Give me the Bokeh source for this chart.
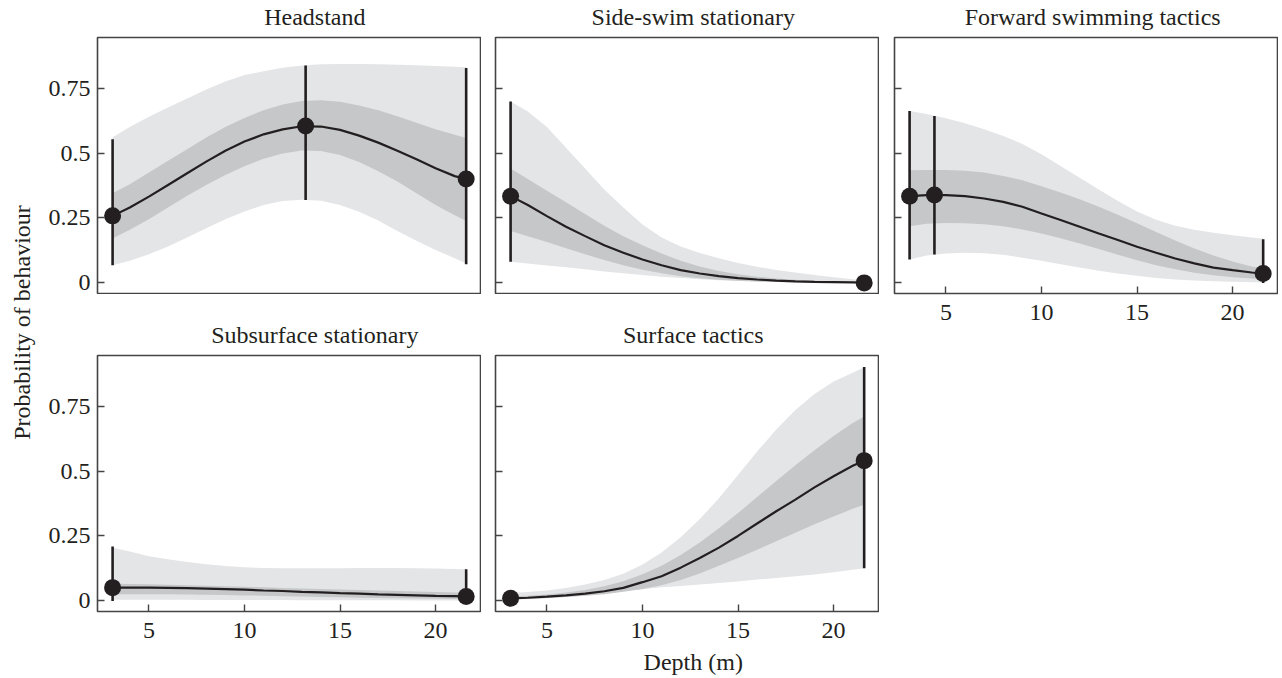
import math
from bokeh.plotting import figure
from bokeh.layouts import row, column
from bokeh.models import Range1d, FixedTicker
from bokeh.embed import file_html
from bokeh.resources import INLINE
from bokeh.core.properties import value

# ---------------- data ----------------
depth = [3.1, 4, 5, 6, 7, 8, 9, 10, 11, 12, 13, 14, 15, 16, 17, 18, 19, 20, 21, 21.6]

titles = ["Headstand", "Side-swim stationary", "Forward swimming tactics",
          "Subsurface stationary", "Surface tactics"]

# Headstand
hs_fit = [0.258, 0.29, 0.332, 0.377, 0.422, 0.467, 0.509, 0.544, 0.572, 0.591, 0.603, 0.602, 0.589, 0.567, 0.54, 0.509, 0.476, 0.441, 0.411, 0.40]
hs_in_hi = [0.345, 0.38, 0.425, 0.47, 0.515, 0.56, 0.60, 0.635, 0.665, 0.687, 0.70, 0.703, 0.697, 0.683, 0.665, 0.642, 0.617, 0.592, 0.570, 0.558]
hs_in_lo = [0.171, 0.205, 0.245, 0.29, 0.335, 0.377, 0.415, 0.449, 0.478, 0.498, 0.51, 0.508, 0.492, 0.465, 0.43, 0.39, 0.345, 0.30, 0.26, 0.238]
hs_out_hi = [0.561, 0.60, 0.64, 0.675, 0.71, 0.745, 0.775, 0.80, 0.815, 0.828, 0.837, 0.842, 0.843, 0.843, 0.842, 0.84, 0.838, 0.835, 0.832, 0.83]
hs_out_lo = [0.068, 0.085, 0.11, 0.14, 0.175, 0.21, 0.245, 0.275, 0.30, 0.315, 0.32, 0.316, 0.30, 0.274, 0.24, 0.20, 0.162, 0.127, 0.095, 0.075]
hs_pt_x = [3.1, 13.2, 21.6]
hs_pt_y = [0.258, 0.604, 0.40]
hs_pt_lo = [0.068, 0.319, 0.072]
hs_pt_hi = [0.553, 0.837, 0.827]

# Side-swim stationary
ss_fit = [0.334, 0.30, 0.257, 0.216, 0.18, 0.145, 0.116, 0.09, 0.068, 0.049, 0.036, 0.026, 0.018, 0.013, 0.009, 0.006, 0.004, 0.003, 0.002, 0.001]
ss_in_hi = [0.44, 0.40, 0.355, 0.31, 0.265, 0.22, 0.18, 0.145, 0.113, 0.085, 0.063, 0.046, 0.033, 0.024, 0.017, 0.012, 0.008, 0.006, 0.004, 0.003]
ss_in_lo = [0.20, 0.18, 0.157, 0.133, 0.11, 0.088, 0.068, 0.051, 0.037, 0.026, 0.018, 0.012, 0.008, 0.005, 0.003, 0.002, 0.001, 0.001, 0.0, 0.0]
ss_out_hi = [0.698, 0.66, 0.60, 0.52, 0.44, 0.36, 0.29, 0.225, 0.175, 0.14, 0.115, 0.095, 0.077, 0.062, 0.05, 0.04, 0.03, 0.022, 0.014, 0.01]
ss_out_lo = [0.081, 0.075, 0.067, 0.06, 0.052, 0.044, 0.037, 0.03, 0.024, 0.019, 0.014, 0.01, 0.007, 0.005, 0.003, 0.002, 0.001, 0.001, 0.0, 0.0]
ss_pt_x = [3.1, 21.6]
ss_pt_y = [0.334, 0.0]
ss_pt_lo = [0.081, 0.0]
ss_pt_hi = [0.698, 0.0]

# Forward swimming tactics
fw_fit = [0.334, 0.338, 0.338, 0.334, 0.325, 0.312, 0.293, 0.267, 0.242, 0.216, 0.19, 0.165, 0.139, 0.116, 0.094, 0.075, 0.059, 0.049, 0.04, 0.036]
fw_in_hi = [0.434, 0.435, 0.435, 0.432, 0.425, 0.412, 0.395, 0.372, 0.348, 0.322, 0.293, 0.262, 0.23, 0.196, 0.163, 0.132, 0.105, 0.082, 0.063, 0.055]
fw_in_lo = [0.218, 0.228, 0.231, 0.23, 0.226, 0.218, 0.206, 0.19, 0.172, 0.152, 0.13, 0.108, 0.087, 0.068, 0.052, 0.039, 0.029, 0.022, 0.017, 0.015]
fw_out_hi = [0.662, 0.65, 0.634, 0.615, 0.592, 0.566, 0.535, 0.495, 0.45, 0.405, 0.36, 0.315, 0.275, 0.243, 0.22, 0.205, 0.193, 0.183, 0.175, 0.17]
fw_out_lo = [0.09, 0.105, 0.113, 0.116, 0.114, 0.108, 0.097, 0.085, 0.072, 0.059, 0.047, 0.036, 0.027, 0.019, 0.013, 0.009, 0.006, 0.004, 0.002, 0.001]
fw_pt_x = [3.1, 4.4, 21.6]
fw_pt_y = [0.334, 0.338, 0.036]
fw_pt_lo = [0.09, 0.109, 0.0]
fw_pt_hi = [0.662, 0.643, 0.168]

# Subsurface stationary
sb_fit = [0.051, 0.051, 0.051, 0.05, 0.049, 0.047, 0.045, 0.043, 0.04, 0.038, 0.035, 0.033, 0.03, 0.028, 0.025, 0.023, 0.021, 0.019, 0.018, 0.017]
sb_in_hi = [0.066, 0.065, 0.064, 0.062, 0.06, 0.058, 0.056, 0.054, 0.052, 0.05, 0.048, 0.046, 0.044, 0.042, 0.04, 0.038, 0.036, 0.034, 0.032, 0.031]
sb_in_lo = [0.025, 0.026, 0.026, 0.026, 0.025, 0.024, 0.023, 0.021, 0.02, 0.018, 0.017, 0.015, 0.014, 0.012, 0.011, 0.01, 0.009, 0.008, 0.007, 0.007]
sb_out_hi = [0.205, 0.19, 0.172, 0.16, 0.15, 0.141, 0.134, 0.129, 0.127, 0.126, 0.126, 0.126, 0.126, 0.127, 0.127, 0.127, 0.126, 0.125, 0.123, 0.122]
sb_out_lo = [0.004, 0.004, 0.004, 0.004, 0.004, 0.003, 0.003, 0.003, 0.003, 0.003, 0.002, 0.002, 0.002, 0.002, 0.002, 0.002, 0.001, 0.001, 0.001, 0.001]
sb_pt_x = [3.1, 21.6]
sb_pt_y = [0.051, 0.017]
sb_pt_lo = [0.0, 0.0]
sb_pt_hi = [0.209, 0.122]

# Surface tactics
sf_fit = [0.01, 0.012, 0.016, 0.021, 0.028, 0.037, 0.05, 0.072, 0.095, 0.128, 0.165, 0.205, 0.25, 0.298, 0.345, 0.39, 0.437, 0.48, 0.52, 0.54]
sf_in_hi = [0.018, 0.02, 0.025, 0.032, 0.042, 0.056, 0.076, 0.103, 0.135, 0.177, 0.225, 0.28, 0.338, 0.40, 0.462, 0.522, 0.58, 0.635, 0.685, 0.71]
sf_in_lo = [0.006, 0.008, 0.011, 0.015, 0.02, 0.026, 0.035, 0.046, 0.06, 0.08, 0.105, 0.135, 0.165, 0.197, 0.23, 0.262, 0.295, 0.325, 0.355, 0.37]
sf_out_hi = [0.03, 0.034, 0.04, 0.05, 0.063, 0.08, 0.104, 0.14, 0.186, 0.245, 0.315, 0.395, 0.485, 0.575, 0.66, 0.735, 0.797, 0.845, 0.878, 0.90]
sf_out_lo = [0.004, 0.006, 0.01, 0.015, 0.022, 0.03, 0.038, 0.045, 0.052, 0.057, 0.063, 0.069, 0.075, 0.082, 0.088, 0.095, 0.102, 0.11, 0.12, 0.126]
sf_pt_x = [3.1, 21.6]
sf_pt_y = [0.01, 0.54]
sf_pt_lo = [0.0, 0.126]
sf_pt_hi = [0.02, 0.901]

y_ticks = [0, 0.25, 0.5, 0.75]
y_tick_labels = ["0", "0.25", "0.5", "0.75"]
x_ticks = [5, 10, 15, 20]
y_label = "Probability of behaviour"
x_label = "Depth (m)"

# ---------------- style / layout ----------------
FONT = "Liberation Serif"
INK = "#231f20"
OUTER = "#e4e5e7"
INNER = "#c6c7c9"
FRAME = "#444444"
FS = "24px"
BASE_SHIFT = 8.5   # baseline correction for the text glyph

FRAME_W = 383
FRAME_H = 256
LEFT_A, LEFT_B, LEFT_C = 61, 14, 15   # left borders of the three columns
STRIP_W = 36
TOTAL_H = 678


def make_panel(fit, in_lo, in_hi, out_lo, out_hi, px, py, plo, phi,
               left_border, bottom_border, y_labels, x_axis):
    p = figure(width=left_border + FRAME_W + 1,
               height=1 + FRAME_H + bottom_border,
               x_range=Range1d(2.31, 22.35), y_range=Range1d(-0.0409, 0.9448),
               output_backend="svg", toolbar_location=None,
               x_axis_location="below" if x_axis else None,
               y_axis_location="left",
               min_border_left=left_border, min_border_right=1,
               min_border_top=1, min_border_bottom=bottom_border,
               background_fill_color="white", border_fill_color="white")
    p.title.visible = False
    p.grid.visible = False
    p.outline_line_color = FRAME
    p.outline_line_width = 1.6

    p.varea(x=depth, y1=out_lo, y2=out_hi, fill_color=OUTER)
    p.varea(x=depth, y1=in_lo, y2=in_hi, fill_color=INNER)
    p.line(x=depth, y=fit, line_color=INK, line_width=2.2)
    p.segment(x0=px, y0=plo, x1=px, y1=phi, line_color=INK, line_width=2.6)
    p.scatter(x=px, y=py, size=17, fill_color=INK, line_color=None)

    axes = list(p.yaxis) + (list(p.xaxis) if x_axis else [])
    for ax in axes:
        ax.axis_line_color = None
        ax.major_tick_in = 7
        ax.major_tick_out = 0
        ax.minor_tick_in = 0
        ax.minor_tick_out = 0
        ax.major_tick_line_color = FRAME
        ax.major_tick_line_width = 1.4
        ax.major_label_text_font = FONT
        ax.major_label_text_color = INK
        ax.major_label_text_font_size = FS
    yax = p.yaxis[0]
    yax.ticker = FixedTicker(ticks=y_ticks)
    if y_labels:
        yax.major_label_overrides = {t: s for t, s in zip(y_ticks, y_tick_labels)}
        yax.major_label_standoff = 7
    else:
        yax.major_label_overrides = {t: "" for t in y_ticks}
        yax.major_label_standoff = 0
    if x_axis:
        xax = p.xaxis[0]
        xax.ticker = FixedTicker(ticks=x_ticks)
        xax.major_label_standoff = 11
    return p


def text_strip(width, height, texts, xs, ys, angle=0.0):
    s = figure(width=width, height=height, x_range=Range1d(0, width), y_range=Range1d(0, height),
               output_backend="svg", toolbar_location=None,
               x_axis_location=None, y_axis_location=None,
               min_border=0, outline_line_color=None,
               background_fill_color="white", border_fill_color="white")
    s.title.visible = False
    s.grid.visible = False
    s.text(x=xs, y=ys, text=texts, angle=angle,
           text_align="center", text_baseline="alphabetic",
           text_font=value(FONT), text_font_size=FS, text_color=INK)
    return s


WA = LEFT_A + FRAME_W + 1
WB = LEFT_B + FRAME_W + 1
WC = LEFT_C + FRAME_W + 1
T1_H = 36          # row-1 title strip (frame top at y = 37)
T2_H = 60          # row-2 title strip (frame top at y = 355)
ROW1_BOTTOM = 1
ROW2_BOTTOM = 34
X_STRIP_H = TOTAL_H - (T1_H + 1 + FRAME_H + ROW1_BOTTOM + T2_H + 1 + FRAME_H + ROW2_BOTTOM)

p1 = make_panel(hs_fit, hs_in_lo, hs_in_hi, hs_out_lo, hs_out_hi,
                hs_pt_x, hs_pt_y, hs_pt_lo, hs_pt_hi, LEFT_A, ROW1_BOTTOM, True, False)
p2 = make_panel(ss_fit, ss_in_lo, ss_in_hi, ss_out_lo, ss_out_hi,
                ss_pt_x, ss_pt_y, ss_pt_lo, ss_pt_hi, LEFT_B, ROW1_BOTTOM, False, False)
p3 = make_panel(fw_fit, fw_in_lo, fw_in_hi, fw_out_lo, fw_out_hi,
                fw_pt_x, fw_pt_y, fw_pt_lo, fw_pt_hi, LEFT_C, 50, False, True)
p4 = make_panel(sb_fit, sb_in_lo, sb_in_hi, sb_out_lo, sb_out_hi,
                sb_pt_x, sb_pt_y, sb_pt_lo, sb_pt_hi, LEFT_A, ROW2_BOTTOM, True, True)
p5 = make_panel(sf_fit, sf_in_lo, sf_in_hi, sf_out_lo, sf_out_hi,
                sf_pt_x, sf_pt_y, sf_pt_lo, sf_pt_hi, LEFT_B, ROW2_BOTTOM, False, True)

# baselines: row-1 titles at y=25, row-2 titles at y=342.5, x label at y=670 (page pixels)
t1 = text_strip(WA, T1_H, [titles[0]], [LEFT_A + FRAME_W / 2], [T1_H - 25 + BASE_SHIFT])
t2 = text_strip(WB, T1_H, [titles[1]], [LEFT_B + FRAME_W / 2], [T1_H - 25 + BASE_SHIFT])
t3 = text_strip(WC, T1_H, [titles[2]], [LEFT_C + FRAME_W / 2], [T1_H - 25 + BASE_SHIFT])
t4 = text_strip(WA, T2_H, [titles[3]], [LEFT_A + FRAME_W / 2], [T2_H - 48.5 + BASE_SHIFT])
t5 = text_strip(WB, T2_H, [titles[4]], [LEFT_B + FRAME_W / 2], [T2_H - 48.5 + BASE_SHIFT])
xs = text_strip(WB, X_STRIP_H, [x_label], [LEFT_B + FRAME_W / 2], [X_STRIP_H - 25 + BASE_SHIFT])
ys = text_strip(STRIP_W, TOTAL_H, [y_label], [29.5 - BASE_SHIFT], [TOTAL_H - 322], angle=math.pi / 2)

layout = row(ys,
             column(t1, p1, t4, p4, spacing=0),
             column(t2, p2, t5, p5, xs, spacing=0),
             column(t3, p3, spacing=0),
             spacing=0)

open("out.html", "w").write(file_html(layout, INLINE))
